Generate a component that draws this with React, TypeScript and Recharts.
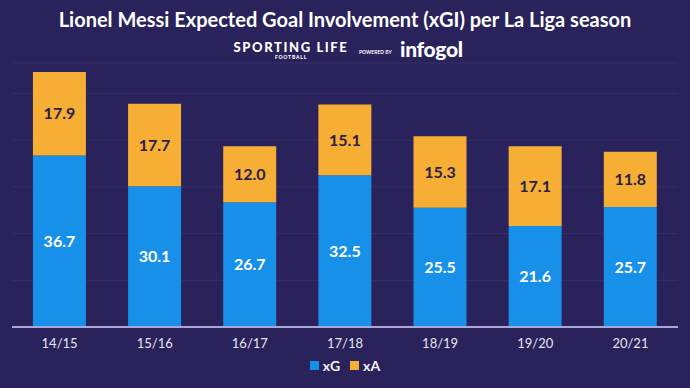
import { BarChart, Bar, XAxis, YAxis, CartesianGrid, LabelList, Legend } from 'recharts';

const seasons = ['14/15', '15/16', '16/17', '17/18', '18/19', '19/20', '20/21'];
const xG = [36.7, 30.1, 26.7, 32.5, 25.5, 21.6, 25.7];
const xA = [17.9, 17.7, 12.0, 15.1, 15.3, 17.1, 11.8];
const gridTicks = [0, 10, 20, 30, 40, 50, 56.5];

const BG = '#29225b';
const BLUE = '#1790ea';
const ORANGE = '#f6ae35';
const FONT = 'Lato, "Open Sans", sans-serif';

const data = seasons.map((s, i) => ({ season: s, xG: xG[i], xA: xA[i] }));

function LegendContent() {
  const items = [
    { name: 'xG', color: BLUE },
    { name: 'xA', color: ORANGE },
  ];
  return (
    <div style={{ display: 'flex', justifyContent: 'center', gap: 10, fontFamily: FONT }}>
      {items.map(it => (
        <div key={it.name} style={{ display: 'flex', alignItems: 'center', gap: 4 }}>
          <span style={{ width: 9, height: 9, background: it.color, display: 'inline-block' }} />
          <span style={{ color: '#f2f2f8', fontSize: 14, fontWeight: 700 }}>{it.name}</span>
        </div>
      ))}
    </div>
  );
}

export default function App() {
  return (
    <div style={{ position: 'fixed', left: 0, top: 0, width: 690, height: 388, background: BG, fontFamily: FONT, overflow: 'hidden' }}>
      <div style={{ position: 'absolute', top: 7, left: 0, width: 690, textAlign: 'center', color: '#ffffff', fontSize: 20, fontWeight: 700 }}>
        Lionel Messi Expected Goal Involvement (xGI) per La Liga season
      </div>
      {/* header logos as text */}
      <div style={{ position: 'absolute', top: 41, left: 231, width: 120, textAlign: 'center', color: '#ffffff' }}>
        <div style={{ fontSize: 13, fontWeight: 900, letterSpacing: 1.6, lineHeight: '13px' }}>SPORTING LIFE</div>
        <div style={{ fontSize: 5, fontWeight: 900, letterSpacing: 0.8, lineHeight: '7px' }}>FOOTBALL</div>
      </div>
      <div style={{ position: 'absolute', top: 49, left: 359, color: '#ffffff', fontSize: 5, fontWeight: 700 }}>POWERED BY</div>
      <div style={{ position: 'absolute', top: 36, left: 400, color: '#ffffff', fontSize: 21, fontWeight: 900, letterSpacing: -0.3 }}>infogol</div>

      <div style={{ position: 'absolute', left: 0, top: 0 }}>
        <BarChart
          width={690}
          height={388}
          data={data}
          margin={{ top: 63, right: 12, left: 12, bottom: 0 }}
          barCategoryGap="22%"
        >
          <CartesianGrid horizontal vertical={false} stroke="#352f6b" strokeWidth={1} />
          <YAxis hide domain={[0, 56.5]} ticks={gridTicks} />
          <XAxis
            dataKey="season"
            height={30}
            axisLine={{ stroke: '#aaa6d8', strokeWidth: 2 }}
            tickLine={false}
            tick={{ fill: '#e6e6f0', fontSize: 13, fontFamily: FONT }}
            dy={4}
          />
          <Legend verticalAlign="bottom" height={31} content={<LegendContent />} />
          <Bar dataKey="xG" stackId="a" fill={BLUE} isAnimationActive={false}>
            <LabelList dataKey="xG" position="center" fill="#ffffff" fontSize={16} fontWeight={700} fontFamily={FONT}
              formatter={(v: any) => Number(v).toFixed(1)} />
          </Bar>
          <Bar dataKey="xA" stackId="a" fill={ORANGE} isAnimationActive={false}>
            <LabelList dataKey="xA" position="center" fill="#2a2149" fontSize={16} fontWeight={700} fontFamily={FONT}
              formatter={(v: any) => Number(v).toFixed(1)} />
          </Bar>
        </BarChart>
      </div>
    </div>
  );
}
